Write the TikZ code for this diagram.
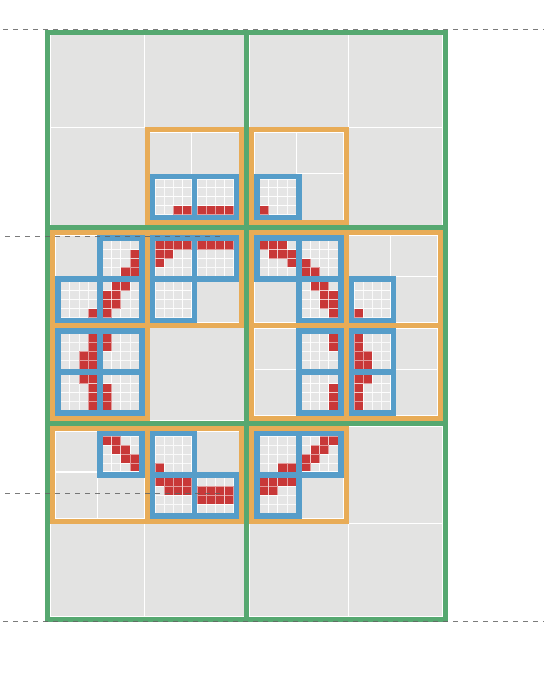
\documentclass[tikz,border=0pt]{standalone}
\usepackage{tikz}
\pgfdeclarelayer{lblue}\pgfdeclarelayer{lorange}\pgfdeclarelayer{lgreen}\pgfdeclarelayer{ltop}
\pgfsetlayers{main,lblue,lorange,lgreen,ltop}
\definecolor{cgray}{RGB}{227,227,226}
\definecolor{cpix}{RGB}{229,229,229}
\definecolor{cred}{RGB}{200,56,56}
\definecolor{cblue}{RGB}{86,157,201}
\definecolor{corange}{RGB}{232,172,87}
\definecolor{cgreen}{RGB}{86,168,112}
\definecolor{cdash}{RGB}{100,100,100}
\tikzset{
  leaf/.style={fill=cgray, draw=white, line width=1.2pt},
  pix/.style={fill=cpix, draw=white, line width=1pt, draw opacity=0.8},
  redpix/.style={fill=cred, draw=white, line width=1pt, draw opacity=0.5},
  obox/.style={draw=corange, line width=5pt},
  bbox/.style={draw=cblue, line width=5.5pt},
  gbox/.style={draw=cgreen, line width=5pt},
  dashline/.style={draw=cdash, line width=1.2pt, dash pattern=on 5pt off 5pt, draw opacity=0.85}
}
\newcommand\WA{94.425}\newcommand\HA{92.85}
\newcommand\WB{41.9625}\newcommand\HB{41.175}
\newcommand\PW{9.1156}\newcommand\PH{8.919}
\newcommand\setG[2]{\pgfmathsetmacro\gx{47.8+198.85*#1}\pgfmathsetmacro\gy{32+195.7*#2}}
\newcommand\setA[2]{\pgfmathsetmacro\xa{\gx+5+#1*\WA}\pgfmathsetmacro\ya{\gy+5+#2*\HA}}
\newcommand\setB[2]{\pgfmathsetmacro\xb{\xa+5.25+#1*\WB}\pgfmathsetmacro\yb{\ya+5.25+#2*\HB}}
\newcommand\grayA[2]{\setA{#1}{#2}\filldraw[leaf] (\xa-2.5,\ya-2.5) rectangle ++(\WA+5,\HA+5);}
\newcommand\orangeA[2]{\setA{#1}{#2}\begin{pgfonlayer}{lorange}\draw[obox] (\xa,\ya) rectangle ++(\WA,\HA);\end{pgfonlayer}}
\newcommand\grayB[2]{\setB{#1}{#2}\filldraw[leaf] (\xb-2.75,\yb-2.75) rectangle ++(\WB+5.5,\HB+5.5);}
\newcommand\blueB[3]{\setB{#1}{#2}%
  \begin{pgfonlayer}{lblue}\draw[bbox] (\xb,\yb) rectangle ++(\WB,\HB);\end{pgfonlayer}%
  \foreach \pc in {0,...,3}{\foreach \pr in {0,...,3}{%
    \filldraw[pix] (\xb+2.75+\pc*\PW,\yb+2.75+\pr*\PH) rectangle ++(\PW,\PH);}}%
  \if\relax\detokenize{#3}\relax\else
    \foreach \pc/\pr in {#3}{\filldraw[redpix] (\xb+2.75+\pc*\PW,\yb+2.75+\pr*\PH) rectangle ++(\PW,\PH);}%
  \fi}
\begin{document}
\begin{tikzpicture}[x=1pt,y=-1pt]
\useasboundingbox (0,0) rectangle (544,680);
\fill[cgray] (47.8,32) rectangle (445.5,619.1);
% green (0,0)
\setG{0}{0}
\grayA{0}{0}\grayA{1}{0}\grayA{0}{1}
\orangeA{1}{1}\grayB{0}{0}\grayB{1}{0}\blueB{0}{1}{2/3,3/3}\blueB{1}{1}{0/3,1/3,2/3,3/3}
% green (1,0)
\setG{1}{0}
\grayA{1}{0}\grayA{0}{0}\grayA{1}{1}
\orangeA{0}{1}\grayB{0}{0}\grayB{1}{0}\blueB{0}{1}{0/3}\grayB{1}{1}
% green (0,1)
\setG{0}{1}
\grayA{1}{1}
\orangeA{0}{0}\grayB{0}{0}\blueB{1}{0}{3/1,3/2,2/3,3/3}\blueB{0}{1}{3/3}\blueB{1}{1}{1/0,2/0,0/1,1/1,0/2,1/2,0/3}
\orangeA{1}{0}\blueB{0}{0}{0/0,1/0,2/0,3/0,0/1,1/1,0/2}\blueB{1}{0}{0/0,1/0,2/0,3/0}\blueB{0}{1}{}\grayB{1}{1}
\orangeA{0}{1}\blueB{0}{0}{3/0,3/1,2/2,3/2,2/3,3/3}\blueB{1}{0}{0/0,0/1}\blueB{0}{1}{2/0,3/0,3/1,3/2,3/3}\blueB{1}{1}{0/1,0/2,0/3}
% green (1,1)
\setG{1}{1}
\orangeA{0}{0}\blueB{0}{0}{0/0,1/0,2/0,1/1,2/1,3/1,3/2}\blueB{1}{0}{0/2,0/3,1/3}\grayB{0}{1}\blueB{1}{1}{1/0,2/0,2/1,3/1,2/2,3/2,3/3}
\orangeA{1}{0}\grayB{0}{0}\grayB{1}{0}\blueB{0}{1}{0/3}\grayB{1}{1}
\orangeA{0}{1}\grayB{0}{0}\blueB{1}{0}{3/0,3/1}\grayB{0}{1}\blueB{1}{1}{3/1,3/2,3/3}
\orangeA{1}{1}\blueB{0}{0}{0/0,0/1,0/2,1/2,0/3,1/3}\grayB{1}{0}\blueB{0}{1}{0/0,1/0,0/1,0/2,0/3}\grayB{1}{1}
% green (0,2)
\setG{0}{2}
\grayA{0}{1}\grayA{1}{1}
\orangeA{0}{0}\grayB{0}{0}\blueB{1}{0}{0/0,1/0,1/1,2/1,2/2,3/2,3/3}\grayB{0}{1}\grayB{1}{1}
\orangeA{1}{0}\blueB{0}{0}{0/3}\grayB{1}{0}\blueB{0}{1}{0/0,1/0,2/0,3/0,1/1,2/1,3/1}\blueB{1}{1}{0/1,1/1,2/1,3/1,0/2,1/2,2/2,3/2}
% green (1,2)
\setG{1}{2}
\grayA{1}{1}\grayA{1}{0}\grayA{0}{1}
\orangeA{0}{0}\blueB{0}{0}{2/3,3/3}\blueB{1}{0}{2/0,3/0,1/1,2/1,0/2,1/2,0/3}\blueB{0}{1}{0/0,1/0,2/0,3/0,0/1,1/1}\grayB{1}{1}
% green frame
\begin{pgfonlayer}{lgreen}
\draw[gbox] (47.8,32) rectangle (445.5,619.1);
\draw[gbox] (246.65,32) -- (246.65,619.1);
\draw[gbox] (47.8,227.7) -- (445.5,227.7);
\draw[gbox] (47.8,423.4) -- (445.5,423.4);
\end{pgfonlayer}
% dashed guides
\begin{pgfonlayer}{ltop}
\draw[dashline, dash phase=7pt] (0,29.3) -- (544,29.3);
\draw[dashline, dash phase=5pt] (0,236.7) -- (221,236.7);
\draw[dashline, dash phase=5pt] (0,493.5) -- (221,493.5);
\draw[dashline, dash phase=7pt] (0,621.6) -- (544,621.6);
\end{pgfonlayer}
\end{tikzpicture}
\end{document}
